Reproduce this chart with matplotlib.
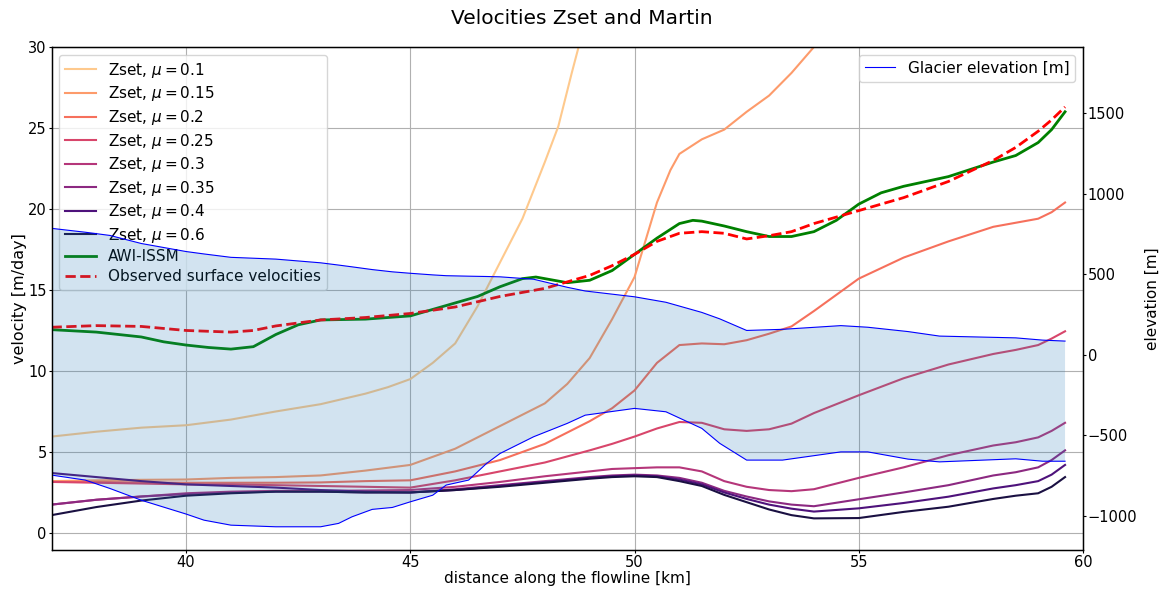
import matplotlib
matplotlib.use("Agg")
import matplotlib.pyplot as plt

# distance along flowline [km] for the Zset runs
km = [37, 38, 39, 40, 41, 42, 43, 44, 45, 46, 47, 48, 49, 49.5, 50, 50.5, 51, 51.5,
      52, 52.5, 53, 53.5, 54, 55, 56, 57, 58, 58.5, 59, 59.3, 59.6]

km_mu01 = [37, 38, 39, 40, 41, 42, 43, 44, 44.5, 45, 45.5, 46, 46.5, 47, 47.5, 48,
           48.3, 48.6, 48.8, 49]
v_mu01 = [5.95, 6.25, 6.5, 6.65, 7.0, 7.5, 7.95, 8.6, 9.0, 9.5, 10.5, 11.7, 14.0, 16.7,
          19.4, 22.9, 25.1, 28.4, 30.5, 32.0]

km_mu015 = [37, 38, 39, 40, 41, 42, 43, 44, 45, 46, 47, 48, 48.5, 49, 49.5, 50, 50.5,
            50.8, 51, 51.5, 52, 52.5, 53, 53.5, 54, 54.5]
v_mu015 = [3.2, 3.25, 3.28, 3.3, 3.4, 3.45, 3.55, 3.85, 4.2, 5.2, 6.6, 8.0, 9.2, 10.8,
           13.2, 15.8, 20.4, 22.4, 23.4, 24.3, 24.9, 26.0, 27.0, 28.4, 30.0, 31.6]

v_mu02 = [3.15, 3.15, 3.12, 3.1, 3.1, 3.1, 3.12, 3.2, 3.25, 3.8, 4.5, 5.5, 6.9, 7.7, 8.8,
          10.5, 11.6, 11.7, 11.65, 11.9, 12.3, 12.75, 13.7, 15.7, 17.0, 18.0, 18.9, 19.15,
          19.4, 19.8, 20.4]
v_mu025 = [3.15, 3.1, 3.05, 3.0, 3.0, 2.95, 2.9, 2.85, 2.8, 3.25, 3.8, 4.35, 5.1, 5.5,
           5.95, 6.45, 6.85, 6.8, 6.4, 6.3, 6.4, 6.75, 7.4, 8.5, 9.55, 10.4, 11.05, 11.3,
           11.6, 12.0, 12.45]
v_mu03 = [1.75, 2.05, 2.25, 2.45, 2.55, 2.6, 2.6, 2.62, 2.65, 2.85, 3.15, 3.5, 3.8, 3.95,
          4.0, 4.05, 4.05, 3.8, 3.2, 2.85, 2.65, 2.58, 2.7, 3.4, 4.05, 4.8, 5.4, 5.6, 5.9,
          6.3, 6.8]
v_mu035 = [1.75, 2.05, 2.25, 2.4, 2.5, 2.55, 2.55, 2.5, 2.5, 2.7, 2.95, 3.2, 3.45, 3.55,
           3.6, 3.55, 3.4, 3.1, 2.6, 2.25, 1.95, 1.75, 1.65, 2.08, 2.5, 2.95, 3.55, 3.75,
           4.05, 4.5, 5.1]
v_mu04 = [3.7, 3.45, 3.2, 3.0, 2.9, 2.8, 2.65, 2.55, 2.5, 2.65, 2.9, 3.15, 3.4, 3.5, 3.55,
          3.5, 3.3, 3.0, 2.5, 2.1, 1.75, 1.5, 1.32, 1.52, 1.85, 2.24, 2.75, 2.95, 3.2, 3.6,
          4.2]
v_mu06 = [1.1, 1.6, 2.0, 2.3, 2.45, 2.55, 2.55, 2.5, 2.5, 2.65, 2.85, 3.1, 3.35, 3.45, 3.5,
          3.45, 3.2, 2.9, 2.35, 1.9, 1.45, 1.1, 0.9, 0.92, 1.3, 1.62, 2.1, 2.3, 2.45, 2.85,
          3.45]

mu_labels = ["0.1", "0.15", "0.2", "0.25", "0.3", "0.35", "0.4", "0.6"]
mu_colors = ["#fec98d", "#fd9b6b", "#f6705c", "#d8466b", "#b5367a", "#8c2981",
             "#4e127b", "#1a1042"]

# AWI-ISSM and observations
km_awi = [37, 38, 39, 39.5, 40, 40.5, 41, 41.5, 42, 42.5, 43, 44, 45, 46, 46.5, 47, 47.5,
          47.8, 48, 48.5, 49, 49.5, 50, 50.5, 51, 51.3, 51.5, 52, 52.5, 53, 53.5, 54, 54.5,
          55, 55.5, 56, 57, 58, 58.5, 59, 59.3, 59.6]
v_awi = [12.55, 12.4, 12.1, 11.8, 11.6, 11.45, 11.35, 11.5, 12.25, 12.85, 13.15, 13.2,
         13.4, 14.2, 14.6, 15.2, 15.7, 15.8, 15.7, 15.45, 15.6, 16.2, 17.2, 18.2, 19.1,
         19.3, 19.25, 18.95, 18.6, 18.3, 18.3, 18.6, 19.3, 20.3, 21.0, 21.4, 22.0, 22.9,
         23.3, 24.1, 24.9, 26.0]

km_obs = [37, 38, 39, 40, 41, 41.5, 42, 43, 44, 45, 46, 47, 48, 49, 49.5, 50, 50.5, 51,
          51.5, 52, 52.5, 53, 53.5, 54, 55, 56, 57, 58, 58.5, 59, 59.3, 59.6]
v_obs = [12.7, 12.8, 12.75, 12.5, 12.4, 12.5, 12.78, 13.15, 13.3, 13.55, 13.95, 14.6,
         15.1, 15.9, 16.5, 17.2, 18.0, 18.5, 18.6, 18.5, 18.15, 18.35, 18.6, 19.1, 19.9,
         20.7, 21.7, 23.0, 23.8, 24.8, 25.5, 26.3]

# glacier geometry
km_geom = [37, 37.75, 38.3, 39, 40, 40.4, 41, 42, 43, 43.4, 43.7, 44.15, 44.6, 45, 45.5,
           45.8, 46.3, 46.7, 47, 47.75, 48.5, 48.9, 50, 50.7, 51.5, 51.9, 52.5, 53.3, 54.6,
           55.2, 56.1, 56.8, 58.5, 59.1, 59.6]
surface = [784, 760, 740, 690, 640, 625, 604, 593, 570, 556, 545, 528, 514, 505, 495, 490,
           487, 485, 483, 468, 418, 395, 359, 325, 262, 222, 150, 157, 180, 170, 143, 115,
           104, 90, 84]
bed = [-748, -779, -831, -904, -990, -1028, -1059, -1069, -1069, -1048, -1007, -961,
       -949, -914, -873, -810, -779, -676, -614, -510, -427, -376, -334, -355, -458, -551,
       -655, -655, -604, -604, -649, -666, -647, -662, -662]

fig, ax1 = plt.subplots(figsize=(11.64, 5.92), dpi=100)
fig.subplots_adjust(left=0.0443, right=0.9304, bottom=0.071, top=0.9206)

zset = [(km_mu01, v_mu01), (km_mu015, v_mu015), (km, v_mu02), (km, v_mu025),
        (km, v_mu03), (km, v_mu035), (km, v_mu04), (km, v_mu06)]
for (xs, ys), lab, col in zip(zset, mu_labels, mu_colors):
    ax1.plot(xs, ys, color=col, lw=1.5, label=r"Zset, $\mu = %s$" % lab)
ax1.plot(km_awi, v_awi, color="green", lw=2, label="AWI-ISSM")
ax1.plot(km_obs, v_obs, "r--", lw=2, label="Observed surface velocities")

ax1.set_xlim(37, 60)
ax1.set_ylim(-1.05, 30)
ax1.set_xlabel("distance along the flowline [km]", fontsize=11, labelpad=1)
ax1.set_ylabel("velocity [m/day]", fontsize=11.5, labelpad=1)
ax1.tick_params(labelsize=10.5, length=2, pad=1.5)
ax1.grid(True)
ax1.legend(loc="upper left", fontsize=11, labelspacing=0.3)
for sp in ax1.spines.values():
    sp.set_linewidth(1.0)

ax2 = ax1.twinx()
ax2.plot(km_geom, surface, color="b", lw=0.8, label="Glacier elevation [m]")
ax2.plot(km_geom, bed, color="b", lw=0.8)
ax2.fill_between(km_geom, bed, surface, alpha=0.2)
ax2.set_ylim(-1213, 1910)
ax2.set_ylabel("elevation [m]", fontsize=11, labelpad=5)
ax2.tick_params(labelsize=10.5, length=2, pad=1.5)
ax2.legend(loc="upper right", fontsize=11)

fig.suptitle("Velocities Zset and Martin", fontsize=14.5, y=0.985)
fig.savefig("out.png")
